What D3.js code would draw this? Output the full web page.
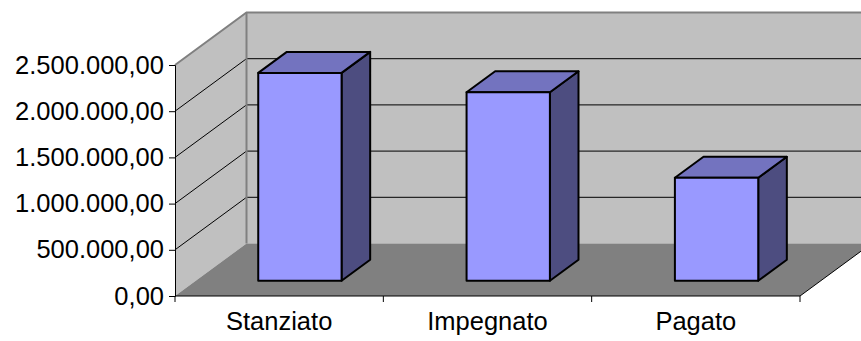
<!DOCTYPE html>
<html>
<head>
<meta charset="utf-8">
<script src="https://cdn.jsdelivr.net/npm/d3@7"></script>
<style>
  body { margin: 0; background: #fff; }
  svg { display: block; }
  text { font-family: "Liberation Sans", Arial, sans-serif; fill: #000; }
</style>
</head>
<body>
<svg id="chart" width="861" height="341"></svg>
<script>
// data
const categories = ["Stanziato", "Impegnato", "Pagato"];
const values = [2250000, 2040000, 1115000];
const yTicks = [0, 500000, 1000000, 1500000, 2000000, 2500000];

const W = 861, H = 341;
const DX = 71.5, DY = -52.5;      // full depth offset of the 3d box
const barT0 = 0.29, barT1 = 0.69; // bar sits at this depth slice

const svg = d3.select("#chart");

const itLocale = d3.formatLocale({ decimal: ",", thousands: ".", grouping: [3], currency: ["€", ""] });
const fmt = itLocale.format(",.2f");

const x = d3.scaleBand()
    .domain(categories)
    .range([175, 800])
    .paddingInner(0.6)
    .paddingOuter(0.3);

const y = d3.scaleLinear()
    .domain([0, 2500000])
    .range([296, 65]);

// project a point at front position (px, py) to depth t
function proj(px, py, t) {
    return [px + t * DX, py + t * DY];
}
function pts(arr) {
    return arr.map(p => p.join(",")).join(" ");
}

const x0 = x.range()[0], x1 = x.range()[1];
const yb = y(0), yt = y(2500000);

// back wall
svg.append("polygon")
    .attr("points", pts([proj(x0, yt, 1), proj(x1, yt, 1), proj(x1, yb, 1), proj(x0, yb, 1)]))
    .attr("fill", "#c0c0c0");
// side wall
svg.append("polygon")
    .attr("points", pts([[x0, yb], [x0, yt], proj(x0, yt, 1), proj(x0, yb, 1)]))
    .attr("fill", "#c0c0c0");
// floor
svg.append("polygon")
    .attr("points", pts([[x0, yb], [x1, yb], proj(x1, yb, 1), proj(x0, yb, 1)]))
    .attr("fill", "#808080");

// gridlines on the walls
const grid = yTicks.filter(d => d > 0 && d < 2500000);
svg.selectAll(".gback").data(grid).enter().append("line")
    .attr("x1", d => proj(x0, y(d), 1)[0])
    .attr("x2", d => proj(x1, y(d), 1)[0])
    .attr("y1", d => proj(x0, y(d), 1)[1])
    .attr("y2", d => proj(x0, y(d), 1)[1])
    .attr("stroke", "#000").attr("stroke-width", 1);
svg.selectAll(".gside").data(grid).enter().append("line")
    .attr("x1", x0).attr("y1", d => y(d))
    .attr("x2", d => proj(x0, y(d), 1)[0])
    .attr("y2", d => proj(x0, y(d), 1)[1])
    .attr("stroke", "#000").attr("stroke-width", 1);

// wall edges
svg.append("polyline")
    .attr("points", pts([[x0, yt], proj(x0, yt, 1), proj(x1 + 40, yt, 1)]))
    .attr("fill", "none").attr("stroke", "#808080").attr("stroke-width", 2);
svg.append("line")
    .attr("x1", proj(x0, yt, 1)[0]).attr("y1", proj(x0, yt, 1)[1])
    .attr("x2", proj(x0, yb, 1)[0]).attr("y2", proj(x0, yb, 1)[1])
    .attr("stroke", "#808080").attr("stroke-width", 2);
// floor right edge
svg.append("line")
    .attr("x1", x1).attr("y1", yb)
    .attr("x2", proj(x1, yb, 1)[0]).attr("y2", proj(x1, yb, 1)[1])
    .attr("stroke", "#000").attr("stroke-width", 1);

// axes
const yAxis = d3.axisLeft(y).tickValues(yTicks).tickFormat(fmt).tickSize(6).tickPadding(5);
const gy = svg.append("g").attr("transform", "translate(" + x0 + ",0)").call(yAxis);
gy.select(".domain").attr("stroke", "#000");
gy.selectAll(".tick line").attr("stroke", "#000");
gy.selectAll("text").style("font-size", "25.5px").attr("fill", "#000");

const gx = svg.append("g").attr("transform", "translate(0," + yb + ")");
gx.append("line").attr("x1", x0).attr("x2", x1).attr("stroke", "#000");
const bounds = [x0].concat(categories.map(c => x(c) + x.bandwidth() + x.step() * x.paddingInner() / 2));
bounds[bounds.length - 1] = x1;
gx.selectAll(".ct").data(bounds).enter().append("line")
    .attr("x1", d => d).attr("x2", d => d)
    .attr("y1", 0).attr("y2", 6)
    .attr("stroke", "#000");
gx.selectAll(".cl").data(categories).enter().append("text")
    .attr("x", d => x(d) + x.bandwidth() / 2)
    .attr("y", 34)
    .attr("text-anchor", "middle")
    .style("font-size", "25.5px")
    .text(d => d);

// bars
const bars = svg.selectAll(".bar").data(categories).enter().append("g");
bars.each(function (c, i) {
    const g = d3.select(this);
    const bl = x(c), br = x(c) + x.bandwidth();
    const top = y(values[i]), bot = y(0);
    const fTL = proj(bl, top, barT0), fTR = proj(br, top, barT0);
    const fBL = proj(bl, bot, barT0), fBR = proj(br, bot, barT0);
    const bTL = proj(bl, top, barT1), bTR = proj(br, top, barT1);
    const bBR = proj(br, bot, barT1);
    g.append("polygon").attr("points", pts([fTR, bTR, bBR, fBR]))
        .attr("fill", "#4d4d80").attr("stroke", "#000").attr("stroke-width", 2).attr("stroke-linejoin", "round");
    g.append("polygon").attr("points", pts([fTL, fTR, bTR, bTL]))
        .attr("fill", "#7373bf").attr("stroke", "#000").attr("stroke-width", 2).attr("stroke-linejoin", "round");
    g.append("polygon").attr("points", pts([fTL, fTR, fBR, fBL]))
        .attr("fill", "#9999ff").attr("stroke", "#000").attr("stroke-width", 2).attr("stroke-linejoin", "round");
});
</script>
</body>
</html>
